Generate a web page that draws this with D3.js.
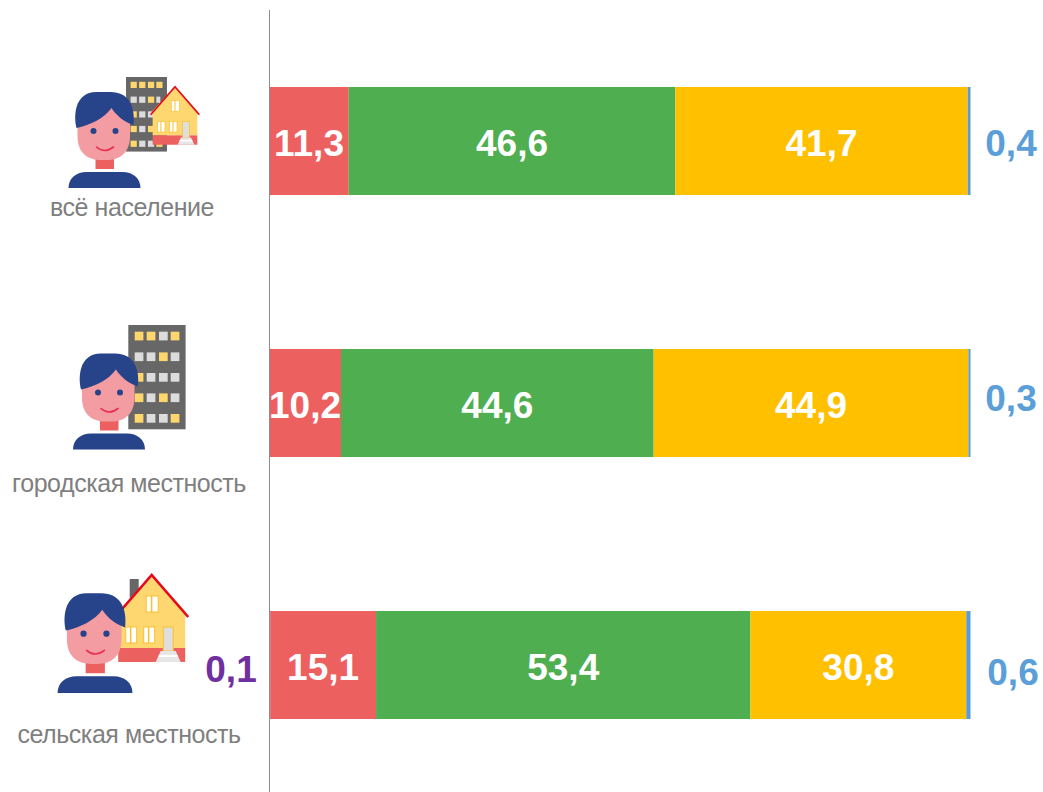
<!DOCTYPE html>
<html><head><meta charset="utf-8">
<script src="https://d3js.org/d3.v7.min.js"></script>
<style>html,body{margin:0;padding:0;background:#fff;overflow:hidden}svg{display:block}text{font-family:"Liberation Sans",Arial,sans-serif}</style>
</head><body><svg id="c" width="1043" height="792"></svg>
<script>
const categories = ["всё население", "городская местность", "сельская местность"];
const purple = [0, 0, 0.1];
const red    = [11.3, 10.2, 15.1];
const green  = [46.6, 44.6, 53.4];
const yellow = [41.7, 44.9, 30.8];
const blue   = [0.4, 0.3, 0.6];

const colors = ["#7030a0", "#ed6060", "#4fae50", "#ffc000", "#5b9bd5"];
const ink = "#7f7f7f";
const rows = categories.map((c, i) => ({c, a: purple[i], b: red[i], d: green[i], e: yellow[i], f: blue[i]}));
const keys = ["a", "b", "d", "e", "f"];

const svg = d3.select("#c");
const x = d3.scaleLinear().domain([0, 100]).range([269.5, 970.5]);
const barTop = d3.scalePoint().domain(categories).range([87, 611]);
const barH = 108;

const stack = d3.stack().keys(keys)(rows);
stack.forEach((s, k) => {
  svg.append("g").attr("fill", colors[k]).selectAll("rect").data(s).join("rect")
    .attr("x", d => x(d[0])).attr("width", d => x(d[1]) - x(d[0]))
    .attr("y", d => barTop(d.data.c)).attr("height", barH);
});

svg.append("line").attr("x1", 269.5).attr("x2", 269.5).attr("y1", 10).attr("y2", 792)
  .attr("stroke", "#8c8c8c").attr("stroke-width", 1);

const fmt = v => String(v).replace(".", ",");
const vLabel = (sel, X, Y, t, fill) => sel.append("text").attr("x", X).attr("y", Y)
  .attr("text-anchor", "middle").attr("font-weight", 700).attr("font-size", 37)
  .attr("fill", fill).text(t);

[1, 2, 3].forEach(k => stack[k].forEach((d, i) => {
  let cx = (x(d[0]) + x(d[1])) / 2;
  if (k === 1 && i === 1) cx = 305;
  if (k === 1 && i === 0) cx = 309;
  const t = d[1] - d[0];
  vLabel(svg, cx, barTop(d.data.c) + 69, fmt(+t.toFixed(1)), "#fff");
}));
const blueLabelPos = [[1011, 156], [1011, 411], [1013, 685]];
blue.forEach((v, i) => vLabel(svg, blueLabelPos[i][0], blueLabelPos[i][1], fmt(v), "#5b9fd8"));
vLabel(svg, 231, 682, fmt(purple[2]), colors[0]);

const labelPos = [[132, 216], [129, 492], [129, 743]];
categories.forEach((c, i) => svg.append("text").attr("x", labelPos[i][0]).attr("y", labelPos[i][1])
  .attr("text-anchor", "middle").attr("font-size", 25).attr("letter-spacing", -0.45)
  .attr("fill", ink).text(c));

const NAVY = "#27438a", SKIN = "#f39ca1", CORAL = "#ed6060", WIN = "#fdd76e", GRAY = "#dcdcdc", BLD = "#666766", ROOF = "#e5081e";
function person(tx, ty, s) {
  const g = svg.append("g").attr("transform", `translate(${tx},${ty}) scale(${s})`);
  g.append("path").attr("fill", NAVY).attr("d", "M-36,0 C-36,-10 -28,-16 -18,-16 L18,-16 C28,-16 36,-10 36,0 Z");
  g.append("rect").attr("x", -9).attr("y", -31).attr("width", 18.5).attr("height", 12).attr("fill", CORAL);
  g.append("path").attr("fill", SKIN).attr("d", "M-27,-85 L25.5,-85 L25.5,-52 C25.5,-36 16,-28 2,-28 L-3,-28 C-18,-28 -27,-36 -27,-52 Z");
  g.append("path").attr("fill", NAVY).attr("d", "M-28,-60 C-31,-72 -30,-96 -8,-96 L6,-96 C24,-96 31,-82 29,-63 C20,-66 12,-72 7,-80 C0,-70 -14,-63 -28,-60 Z");
  g.selectAll("circle").data([-11, 11]).join("circle").attr("cx", d => d).attr("cy", -57).attr("r", 3).attr("fill", NAVY);
  g.append("path").attr("fill", "none").attr("stroke", "#e8304f").attr("stroke-width", 1.6).attr("stroke-linecap", "round")
    .attr("d", "M-8,-41 Q0,-34 9,-41");
}
const winPattern = ["YYGY", "GGYG", "YGGG", "YGYG", "YGGY"];
function building(tx, ty, s, pattern) {
  const g = svg.append("g").attr("transform", `translate(${tx},${ty}) scale(${s})`);
  g.append("rect").attr("width", 57.3).attr("height", 104.3).attr("fill", BLD);
  pattern.forEach((row, r) => [...row].forEach((ch, c) => {
    g.append("rect").attr("x", [6.4, 18.4, 30.7, 42.4][c]).attr("y", [6.7, 27.4, 48, 68.4, 89][r])
      .attr("width", 8.7).attr("height", 8.7).attr("fill", ch === "Y" ? WIN : GRAY);
  }));
}
function house(tx, ty, s) {
  const g = svg.append("g").attr("transform", `translate(${tx},${ty}) scale(${s})`);
  g.append("rect").attr("x", -22).attr("y", 4).attr("width", 9).attr("height", 24).attr("fill", BLD);
  g.append("path").attr("fill", "#fed770").attr("d", "M0,0 L33.5,36 L33.5,73 L-33.5,73 L-33.5,36 Z");
  g.append("rect").attr("x", -33.5).attr("y", 73).attr("width", 67).attr("height", 14).attr("fill", CORAL);
  g.append("path").attr("fill", "none").attr("stroke", ROOF).attr("stroke-width", 2.6).attr("d", "M-36.5,42 L0,0 L36.5,42");
  [[-5.5, 21, 12, 16], [-26, 52, 11, 16], [-8, 52, 11, 16]].forEach(w => {
    g.append("rect").attr("x", w[0]).attr("y", w[1]).attr("width", w[2]).attr("height", w[3])
      .attr("fill", "#fff").attr("stroke", "#fbc02d").attr("stroke-width", 1);
    g.append("line").attr("x1", w[0] + w[2] * .45).attr("x2", w[0] + w[2] * .45).attr("y1", w[1]).attr("y2", w[1] + w[3])
      .attr("stroke", "#fbc02d").attr("stroke-width", 1.5);
  });
  g.append("rect").attr("x", 11.5).attr("y", 52).attr("width", 10).attr("height", 24).attr("fill", "#dedede").attr("stroke", "#fbc02d").attr("stroke-width", 1);
  g.append("path").attr("fill", "#e6e6e6").attr("d", "M9,76 L24,76 L29,87 L4,87 Z");
  g.append("rect").attr("x", 7).attr("y", 80).attr("width", 19).attr("height", 2).attr("fill", "#fff");
}
building(126, 77, 0.715, ["YYYY", "GGYG", "YGGG", "YGYG", "YGGY"]);
house(175, 86.7, 0.667);
person(104.5, 188, 1);
building(128.3, 325, 1, winPattern);
person(109, 449.5, 1);
house(151.7, 575, 1);
person(95, 693, 1.04);
</script></body></html>
